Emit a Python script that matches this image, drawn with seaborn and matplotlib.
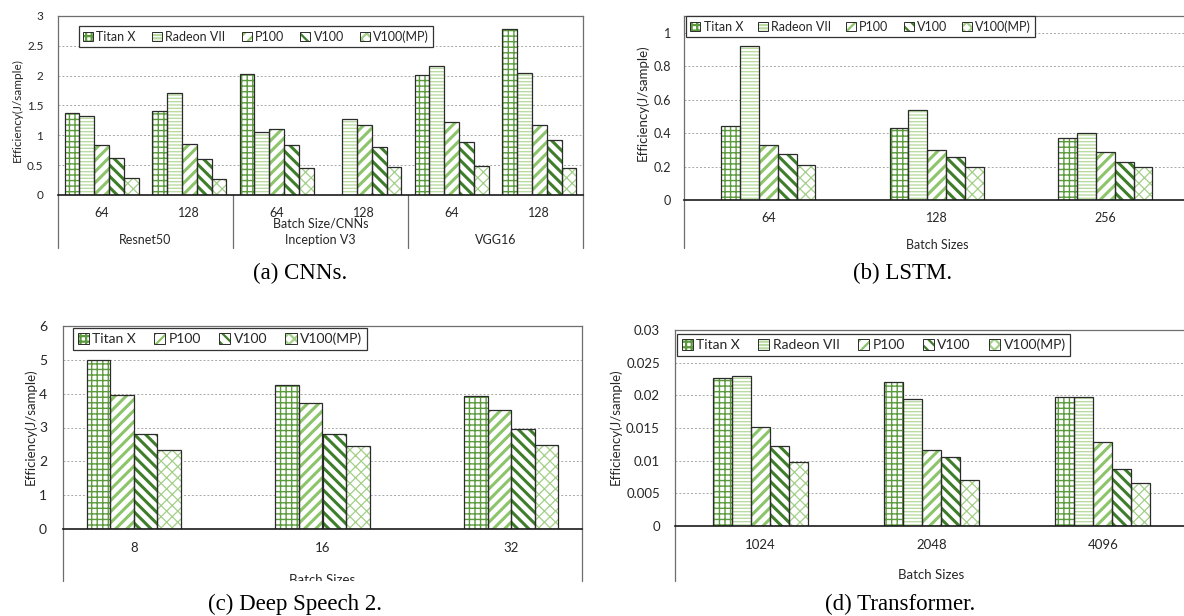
import numpy as np
import pandas as pd
import matplotlib
matplotlib.use("Agg")
import matplotlib.pyplot as plt
import seaborn as sns
from matplotlib.patches import Patch
from matplotlib.transforms import blended_transform_factory, Bbox, TransformedBbox

# (a) CNNs
cnn_models = ["Resnet50", "Inception V3", "VGG16"]
cnn_batches = ["64", "128"]
cnn_titan = [1.37, 1.40, 2.02, np.nan, 2.01, 2.78]
cnn_radeon = [1.33, 1.71, 1.05, 1.28, 2.16, 2.05]
cnn_p100 = [0.83, 0.85, 1.10, 1.17, 1.22, 1.18]
cnn_v100 = [0.62, 0.61, 0.83, 0.81, 0.89, 0.93]
cnn_v100mp = [0.29, 0.27, 0.45, 0.47, 0.48, 0.45]

# (b) LSTM
lstm_batches = ["64", "128", "256"]
lstm_titan = [0.44, 0.43, 0.37]
lstm_radeon = [0.92, 0.54, 0.40]
lstm_p100 = [0.33, 0.30, 0.285]
lstm_v100 = [0.275, 0.26, 0.23]
lstm_v100mp = [0.21, 0.20, 0.20]

# (c) Deep Speech 2
ds_batches = ["8", "16", "32"]
ds_titan = [5.0, 4.27, 3.93]
ds_p100 = [3.97, 3.73, 3.52]
ds_v100 = [2.82, 2.82, 2.97]
ds_v100mp = [2.33, 2.45, 2.47]

# (d) Transformer
tf_batches = ["1024", "2048", "4096"]
tf_titan = [0.0227, 0.0221, 0.0197]
tf_radeon = [0.0229, 0.0195, 0.0198]
tf_p100 = [0.0151, 0.0117, 0.0128]
tf_v100 = [0.0122, 0.0105, 0.0088]
tf_v100mp = [0.0098, 0.0071, 0.0066]

STYLE = {
    "Titan X": dict(hatch="+++", color="#5b9b3d", hlw=1.0),
    "Radeon VII": dict(hatch="-----", color="#b9dba2", hlw=1.0),
    "P100": dict(hatch="///", color="#8cc46a", hlw=2.2),
    "V100": dict(hatch="\\\\\\", color="#3e7d29", hlw=2.2),
    "V100(MP)": dict(hatch="xxx", color="#a3cf88", hlw=0.9),
}
EDGE = "#2b2b2b"
GRAY = "#6e6e6e"

sns.set_style("white")
plt.rcParams["font.family"] = ["Lato", "DejaVu Sans"]
plt.rcParams["hatch.linewidth"] = 1.6

W, H = 1184, 616
fig = plt.figure(figsize=(W / 100, H / 100), dpi=100)


def fx(px):
    return px / W


def fy(py):
    return 1 - py / H


def make_ax(left, right, top, zero):
    ax = fig.add_axes([fx(left), fy(zero), (right - left) / W, (zero - top) / H])
    ax.zero_px, ax.top_px = zero, top
    return ax


def to_long(cats, series):
    frames = [pd.DataFrame({"cat": cats, "gpu": g, "val": v}) for g, v in series.items()]
    return pd.concat(frames, ignore_index=True)


def draw_bars(ax, cats, series, width):
    df = to_long(cats, series)
    hue_order = list(series.keys())
    kw = dict(data=df, x="cat", y="val", hue="gpu", order=cats, hue_order=hue_order,
              width=width, errorbar=None, legend=False, ax=ax)
    # hatched fill layer
    sns.barplot(palette={g: "white" for g in hue_order}, saturation=1, linewidth=0, **kw)
    n0 = len(ax.containers)
    for cont, g in zip(ax.containers, hue_order):
        st = STYLE[g]
        for p in cont:
            p.set_facecolor("white")
            p.set_edgecolor(st["color"])
            p.set_linewidth(0)
            p.set_hatch(st["hatch"])
            if hasattr(p, "set_hatch_linewidth"):
                p.set_hatch_linewidth(st["hlw"])
    # dark outline layer
    sns.barplot(palette={g: EDGE for g in hue_order}, fill=False, linewidth=0.9, **kw)
    for cont in ax.containers[n0:]:
        for p in cont:
            p.set_edgecolor(EDGE)
            p.set_facecolor("none")


def style_axes(ax, yticks, ymax, box_bottom, tick_fs, ypad, right=True):
    ax.set_ylim(0, ymax)
    ax.set_yticks(yticks)
    ax.set_yticklabels([f"{v:g}" for v in yticks], fontsize=tick_fs, color="#262626")
    ax.set_xticks([])
    ax.set_xlabel("")
    ax.set_ylabel("")
    ax.yaxis.grid(True, linestyle=(0, (2, 2)), color="#a8a8a8", lw=0.7)
    ax.set_axisbelow(True)
    ax.tick_params(axis="y", length=0, pad=ypad)
    for s in ["left", "right", "top"]:
        ax.spines[s].set_color(GRAY)
        ax.spines[s].set_linewidth(0.9)
    ax.spines["right"].set_visible(right)
    ax.spines["bottom"].set_color("#1a1a1a")
    ax.spines["bottom"].set_linewidth(1.2)
    ext = (box_bottom - ax.zero_px) / (ax.zero_px - ax.top_px)
    for x in ((0, 1) if right else (0,)):
        ax.plot([x, x], [0, -ext], transform=ax.transAxes, clip_on=False, color=GRAY, lw=0.9)
    return ext


def px_text(ax, x, py, s, fs, **kw):
    tr = blended_transform_factory(ax.transData, fig.transFigure)
    return ax.text(x, fy(py), s, transform=tr, ha="center", va="center",
                   fontsize=fs, color="#262626", **kw)


def ylab(px, py, fs):
    fig.text(fx(px), fy(py), "Efficiency(J/sample)", rotation=90, ha="center",
             va="center", fontsize=fs, color="#262626")


def add_legend(ax, names, x, y, fs, colsp):
    handles = []
    for n in names:
        st = STYLE[n]
        hp = Patch(facecolor="white", edgecolor=st["color"], hatch=st["hatch"], linewidth=0)
        if hasattr(hp, "set_hatch_linewidth"):
            hp.set_hatch_linewidth(min(st["hlw"], 1.2))
        handles.append((hp, Patch(facecolor="none", edgecolor=EDGE, linewidth=0.7)))
    leg = ax.legend(handles, names, loc="upper left", bbox_to_anchor=(fx(x), fy(y)),
                    bbox_transform=fig.transFigure, ncol=len(names), fontsize=fs,
                    frameon=True, fancybox=False, framealpha=1, borderaxespad=0,
                    handlelength=0.8, handleheight=0.8, handletextpad=0.25,
                    columnspacing=colsp, borderpad=0.35)
    leg.get_frame().set_edgecolor("#333333")
    leg.get_frame().set_linewidth(0.9)
    for t in leg.get_texts():
        t.set_color("#262626")


# ---------------- (a) CNNs ----------------
ax_a = make_ax(58, 583, 16, 195)
cnn_cats = [f"{m} {b}" for m in cnn_models for b in cnn_batches]
draw_bars(ax_a, cnn_cats,
          {"Titan X": cnn_titan, "Radeon VII": cnn_radeon, "P100": cnn_p100,
           "V100": cnn_v100, "V100(MP)": cnn_v100mp}, 0.85)
ext_a = style_axes(ax_a, np.arange(0, 3.01, 0.5), 3, 248, 8.5, 10.5)
ax_a.set_xlim(-0.5, len(cnn_cats) - 0.5)
sep_tr = blended_transform_factory(ax_a.transData, ax_a.transAxes)
for i in range(1, len(cnn_models)):
    xs = 2 * i - 0.5
    ax_a.plot([xs, xs], [0, -ext_a], transform=sep_tr, clip_on=False, color=GRAY, lw=0.9)
for i, c in enumerate(cnn_cats):
    px_text(ax_a, i, 213, c.split(" ")[-1], 9)
for i, m in enumerate(cnn_models):
    px_text(ax_a, 2 * i + 0.5, 240, m, 9)
px_text(ax_a, 2.5, 224, "Batch Size/CNNs", 9)
ylab(17, 110, 8.5)
add_legend(ax_a, ["Titan X", "Radeon VII", "P100", "V100", "V100(MP)"], 79, 26, 9, 1.3)

# ---------------- (b) LSTM ----------------
ax_b = make_ax(684, 1184, 16, 200)
draw_bars(ax_b, lstm_batches,
          {"Titan X": lstm_titan, "Radeon VII": lstm_radeon, "P100": lstm_p100,
           "V100": lstm_v100, "V100(MP)": lstm_v100mp}, 0.56)
style_axes(ax_b, np.arange(0, 1.01, 0.2), 1.1, 248, 9, 9.5, right=False)
ax_b.set_xlim(-0.5, 2.467)
for i, c in enumerate(lstm_batches):
    px_text(ax_b, i, 218, c, 9)
px_text(ax_b, 1, 245, "Batch Sizes", 9)
ylab(642, 103, 9.5)
add_legend(ax_b, ["Titan X", "Radeon VII", "P100", "V100", "V100(MP)"], 686, 16, 9, 1.2)

# ---------------- (c) Deep Speech 2 ----------------
ax_c = make_ax(63, 582, 326, 529)
draw_bars(ax_c, ds_batches,
          {"Titan X": ds_titan, "P100": ds_p100, "V100": ds_v100, "V100(MP)": ds_v100mp}, 0.5)
style_axes(ax_c, np.arange(0, 6.01, 1), 6, 581, 10, 11.5)
for i, c in enumerate(ds_batches):
    px_text(ax_c, i, 548, c, 9.5)
lab_c = px_text(ax_c, 1, 580, "Batch Sizes", 9.5)
lab_c.set_clip_box(TransformedBbox(Bbox.from_extents(0, fy(581), 1, 1), fig.transFigure))
lab_c.set_clip_on(True)
ylab(30, 427, 9.5)
add_legend(ax_c, ["Titan X", "P100", "V100", "V100(MP)"], 73, 328, 10, 1.3)

# ---------------- (d) Transformer ----------------
ax_d = make_ax(674.5, 1184, 330, 526)
draw_bars(ax_d, tf_batches,
          {"Titan X": tf_titan, "Radeon VII": tf_radeon, "P100": tf_p100,
           "V100": tf_v100, "V100(MP)": tf_v100mp}, 0.555)
style_axes(ax_d, np.arange(0, 0.0301, 0.005), 0.03, 581, 9.5, 10.5, right=False)
ax_d.set_xlim(-0.5, 2.473)
for i, c in enumerate(tf_batches):
    px_text(ax_d, i, 545, c, 9.5)
px_text(ax_d, 1, 575, "Batch Sizes", 9.5)
ylab(615, 427, 9.5)
add_legend(ax_d, ["Titan X", "Radeon VII", "P100", "V100", "V100(MP)"], 677, 334, 10, 1.3)

# captions
for x, y, s in [(300, 273, "(a) CNNs."), (903, 273, "(b) LSTM."),
                (295, 604, "(c) Deep Speech 2."), (900, 604, "(d) Transformer.")]:
    fig.text(fx(x), fy(y), s, ha="center", va="center", fontsize=16.5,
             family="Liberation Serif", color="black")

fig.savefig("out.png", dpi=100)
